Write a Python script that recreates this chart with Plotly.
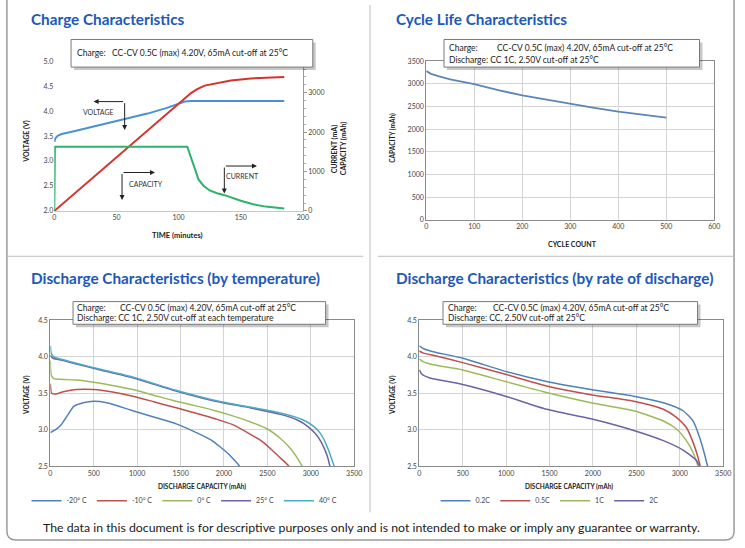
import plotly.graph_objects as go

W, H = 745, 548
def X(px): return px / W
def Y(py): return 1 - py / H

# ---------------- data ----------------
# Charge characteristics
time_v = [0, 1, 3, 6, 15, 30, 45, 60, 75, 90, 100, 105, 110, 150, 185]
voltage = [3.38, 3.46, 3.51, 3.54, 3.59, 3.68, 3.77, 3.86, 3.95, 4.06, 4.15, 4.19, 4.20, 4.20, 4.20]
time_c = [0, 100, 106, 110, 115, 121, 142, 158, 185]
capacity = [0, 2730, 2890, 2990, 3090, 3180, 3310, 3360, 3400]
time_i = [0, 0.5, 107, 110, 113, 116, 120, 125, 131, 137, 150, 160, 170, 185]
current = [0, 1630, 1630, 1350, 1050, 800, 640, 520, 450, 400, 260, 170, 110, 65]

# Cycle life
cycles = [0, 10, 25, 50, 100, 150, 200, 250, 300, 350, 400, 450, 500]
cycle_cap = [3280, 3220, 3170, 3100, 2995, 2860, 2745, 2650, 2565, 2470, 2385, 2315, 2255]

# Discharge by temperature
temp_names = ["-20° C", "-10° C", "0° C", "25° C", "40° C"]
t20_cap = [0, 60, 120, 200, 270, 380, 500, 650, 950, 1200, 1450, 1700, 1850, 1950, 2050, 2130, 2180]
t20_v = [2.96, 3.00, 3.06, 3.20, 3.32, 3.37, 3.39, 3.37, 3.26, 3.17, 3.08, 2.95, 2.86, 2.77, 2.67, 2.57, 2.50]
t10_cap = [0, 15, 60, 150, 300, 500, 700, 950, 1200, 1450, 1700, 1900, 2100, 2300, 2450, 2580, 2680, 2750]
t10_v = [3.63, 3.50, 3.49, 3.52, 3.55, 3.55, 3.52, 3.46, 3.38, 3.30, 3.22, 3.15, 3.07, 2.94, 2.83, 2.69, 2.58, 2.50]
t0_cap = [0, 10, 40, 150, 300, 500, 700, 950, 1200, 1450, 1700, 1900, 2100, 2300, 2500, 2650, 2760, 2840, 2900]
t0_v = [3.95, 3.75, 3.70, 3.69, 3.68, 3.65, 3.61, 3.55, 3.47, 3.39, 3.32, 3.26, 3.19, 3.11, 3.01, 2.88, 2.75, 2.62, 2.50]
t25_cap = [0, 30, 150, 300, 576, 955, 1447, 1900, 2300, 2650, 2850, 2960, 3050, 3110, 3160, 3195, 3220]
t25_v = [4.02, 3.98, 3.95, 3.90, 3.82, 3.71, 3.53, 3.39, 3.30, 3.21, 3.13, 3.05, 2.95, 2.85, 2.73, 2.62, 2.50]
t40_cap = [0, 10, 40, 150, 300, 576, 955, 1447, 1900, 2300, 2650, 2900, 3030, 3110, 3170, 3210, 3240, 3270]
t40_v = [4.15, 4.05, 4.00, 3.96, 3.91, 3.83, 3.72, 3.54, 3.40, 3.31, 3.23, 3.14, 3.05, 2.95, 2.82, 2.70, 2.60, 2.50]

# Discharge by rate
rate_names = ["0.2C", "0.5C", "1C", "2C"]
r02_cap = [0, 50, 159, 500, 992, 1466, 1977, 2470, 2811, 3038, 3152, 3227, 3284, 3320]
r02_v = [4.15, 4.11, 4.07, 3.98, 3.80, 3.66, 3.55, 3.46, 3.37, 3.26, 3.12, 2.90, 2.67, 2.50]
r05_cap = [0, 50, 159, 500, 992, 1466, 1977, 2470, 2811, 2962, 3076, 3152, 3208, 3235]
r05_v = [4.08, 4.05, 4.02, 3.92, 3.76, 3.60, 3.48, 3.39, 3.28, 3.17, 3.03, 2.83, 2.63, 2.50]
r1_cap = [0, 50, 159, 500, 992, 1466, 1977, 2470, 2811, 2962, 3076, 3152, 3210]
r1_v = [3.97, 3.93, 3.89, 3.82, 3.66, 3.51, 3.37, 3.26, 3.12, 3.01, 2.85, 2.69, 2.50]
r2_cap = [0, 30, 121, 500, 992, 1466, 1977, 2470, 2811, 3038, 3190, 3230]
r2_v = [3.82, 3.76, 3.71, 3.62, 3.46, 3.28, 3.15, 2.99, 2.85, 2.72, 2.58, 2.50]

FONT = "Lato"
BLUE, RED, GREEN, PURPLE, CYAN = "#4f81bd", "#c0504d", "#9bbb59", "#6a63a8", "#4bacc6"
TITLE_C = "#2058b8"

fig = go.Figure()

# Chart 1
fig.add_trace(go.Scatter(x=time_v, y=voltage, mode="lines", line=dict(color="#4a90d9", width=2),
                         xaxis="x", yaxis="y", showlegend=False))
fig.add_trace(go.Scatter(x=time_c, y=capacity, mode="lines", line=dict(color="#d4342c", width=2),
                         xaxis="x", yaxis="y2", showlegend=False))
fig.add_trace(go.Scatter(x=time_i, y=current, mode="lines", line=dict(color="#2db36a", width=2),
                         xaxis="x", yaxis="y2", showlegend=False))
# Chart 2
fig.add_trace(go.Scatter(x=cycles, y=cycle_cap, mode="lines", line=dict(color="#5b86b8", width=1.8),
                         xaxis="x2", yaxis="y3", showlegend=False))
# Chart 3
for name, cx, vy, col in zip(temp_names, [t20_cap, t10_cap, t0_cap, t25_cap, t40_cap],
                             [t20_v, t10_v, t0_v, t25_v, t40_v], [BLUE, RED, GREEN, PURPLE, CYAN]):
    fig.add_trace(go.Scatter(x=cx, y=vy, mode="lines", name=name, line=dict(color=col, width=1.5, shape="spline", smoothing=0.6),
                             xaxis="x3", yaxis="y4", legend="legend"))
# Chart 4
for name, cx, vy, col in zip(rate_names, [r02_cap, r05_cap, r1_cap, r2_cap],
                             [r02_v, r05_v, r1_v, r2_v], [BLUE, RED, GREEN, PURPLE]):
    fig.add_trace(go.Scatter(x=cx, y=vy, mode="lines", name=name, line=dict(color=col, width=1.5, shape="spline", smoothing=0.6),
                             xaxis="x4", yaxis="y5", legend="legend2"))

tickf = dict(family=FONT, size=7, color="#444")
grid = "#d4d4d4"
frame = "#8a8a8a"

layout = dict(
    width=W, height=H, margin=dict(l=0, r=0, t=0, b=0),
    paper_bgcolor="white", plot_bgcolor="rgba(0,0,0,0)",
    font=dict(family=FONT),
    xaxis=dict(domain=[X(53), X(305)], range=[0, 200], tickvals=[0, 50, 100, 150, 200],
               showgrid=False, zeroline=False, showline=True, linecolor="#c8c8c8", tickfont=tickf,
               anchor="y", fixedrange=True),
    yaxis=dict(domain=[Y(209), Y(57)], range=[2, 5], dtick=0.5, tickformat=".1f", showgrid=False,
               zeroline=False, showline=False, tickfont=tickf, anchor="x"),
    yaxis2=dict(overlaying="y", side="right", range=[0, 3800], tickvals=[0, 1000, 2000, 3000],
                showgrid=False, zeroline=False, showline=True, linecolor="#9a9a9a", ticks="outside",
                ticklen=3, tickcolor="#9a9a9a", tickfont=tickf, anchor="x",
                minor=dict(ticks="outside", ticklen=2, dtick=200, tickcolor="#b0b0b0")),
    xaxis2=dict(domain=[X(430), X(722)], range=[0, 600], dtick=100, showgrid=True, gridcolor=grid,
                zeroline=False, showline=True, mirror=True, linecolor=frame, tickfont=tickf, anchor="y3"),
    yaxis3=dict(domain=[Y(218), Y(57)], range=[0, 3500], dtick=500, showgrid=True, gridcolor=grid,
                zeroline=False, showline=True, mirror=True, linecolor=frame, tickfont=tickf, anchor="x2"),
    xaxis3=dict(domain=[X(49), X(357)], range=[0, 3500], dtick=500, showgrid=True, gridcolor=grid,
                zeroline=False, showline=True, mirror=True, linecolor=frame, tickfont=tickf, anchor="y4"),
    yaxis4=dict(domain=[Y(468), Y(320)], range=[2.5, 4.5], dtick=0.5, tickformat=".1f", showgrid=True,
                gridcolor=grid, zeroline=False, showline=True, mirror=True, linecolor=frame, tickfont=tickf, anchor="x3"),
    xaxis4=dict(domain=[X(423), X(731)], range=[0, 3500], dtick=500, showgrid=True, gridcolor=grid,
                zeroline=False, showline=True, mirror=True, linecolor=frame, tickfont=tickf, anchor="y5"),
    yaxis5=dict(domain=[Y(468), Y(320)], range=[2.5, 4.5], dtick=0.5, tickformat=".1f", showgrid=True,
                gridcolor=grid, zeroline=False, showline=True, mirror=True, linecolor=frame, tickfont=tickf, anchor="x4"),
    legend=dict(orientation="h", x=X(185), y=Y(503), xanchor="center", yanchor="middle",
                font=dict(family=FONT, size=7, color="#444"), itemwidth=30,
                bgcolor="rgba(0,0,0,0)"),
    legend2=dict(orientation="h", x=X(555), y=Y(503), xanchor="center", yanchor="middle",
                 font=dict(family=FONT, size=7, color="#444"), itemwidth=30,
                 bgcolor="rgba(0,0,0,0)"),
)
fig.update_layout(**layout)

shapes = []
annos = []

def paper_line(x0, y0, x1, y1, color="#bdbdbd", width=1):
    shapes.append(dict(type="line", xref="paper", yref="paper", x0=X(x0), y0=Y(y0), x1=X(x1), y1=Y(y1),
                       line=dict(color=color, width=width)))

def text(px, py, s, size=8, color="#222", bold=False, xanchor="left", angle=0):
    if bold:
        s = "<b>" + s + "</b>"
    annos.append(dict(xref="paper", yref="paper", x=X(px), y=Y(py), text=s, showarrow=False,
                      xanchor=xanchor, yanchor="middle", textangle=angle, borderpad=0,
                      font=dict(family=FONT, size=size, color=color)))

def box(x0, y0, x1, y1):
    shapes.append(dict(type="rect", xref="paper", yref="paper", x0=X(x0 + 3), y0=Y(y1 + 3), x1=X(x1 + 3), y1=Y(y0 + 3),
                       fillcolor="rgba(0,0,0,0.22)", line=dict(width=0), layer="above"))
    shapes.append(dict(type="rect", xref="paper", yref="paper", x0=X(x0), y0=Y(y1), x1=X(x1), y1=Y(y0),
                       fillcolor="white", line=dict(color="#7a7a7a", width=1), layer="above"))

# outer frame with rounded bottom corners
r = 9
l, rt, b, t = 5, 742, 543, -5
path = (f"M {X(l)},{Y(t)} L {X(l)},{Y(b - r)} Q {X(l)},{Y(b)} {X(l + r)},{Y(b)} "
        f"L {X(rt - r)},{Y(b)} Q {X(rt)},{Y(b)} {X(rt)},{Y(b - r)} L {X(rt)},{Y(t)}")
shapes.append(dict(type="path", xref="paper", yref="paper", path=path, line=dict(color="#9a9a9a", width=1.5)))
# dividers
paper_line(373, 0, 373, 515)
paper_line(5, 255, 366, 255)
paper_line(381, 255, 742, 255)

# titles
text(28, 14, "Charge Characteristics", size=15.3, color=TITLE_C, bold=True)
text(398, 14, "Cycle Life Characteristics", size=15.3, color=TITLE_C, bold=True)
text(28, 277, "Discharge Characteristics (by temperature)", size=15.3, color=TITLE_C, bold=True)
text(398, 277, "Discharge Characteristics (by rate of discharge)", size=15.3, color=TITLE_C, bold=True)

FS = 8.5
# condition boxes
box(70, 35, 315, 63)
text(75, 49, "Charge:", size=FS)
text(110, 49, "CC-CV 0.5C (max) 4.20V, 65mA cut-off at 25°C", size=FS)

box(448, 35, 707, 63)
text(452, 44, "Charge:", size=FS)
text(501, 44, "CC-CV 0.5C (max) 4.20V, 65mA cut-off at 25°C", size=FS)
text(452, 56, "Discharge: CC 1C, 2.50V cut-off at 25°C", size=FS)

box(72, 301, 328, 324)
text(75, 307, "Charge:", size=FS)
text(119, 307, "CC-CV 0.5C (max) 4.20V, 65mA cut-off at 25°C", size=FS)
text(75, 318, "Discharge: CC 1C, 2.50V cut-off at each temperature", size=FS)

box(447, 301, 705, 324)
text(451, 307, "Charge:", size=FS)
text(497, 307, "CC-CV 0.5C (max) 4.20V, 65mA cut-off at 25°C", size=FS)
text(451, 318, "Discharge: CC, 2.50V cut-off at 25°C", size=FS)

# axis titles
text(25, 138, "VOLTAGE (V)", size=7, bold=True, xanchor="center", angle=-90)
text(178, 234, "TIME (minutes)", size=7.5, bold=True, xanchor="center")
text(337, 146, "CURRENT (mA)", size=7, bold=True, xanchor="center", angle=-90)
text(347, 146, "CAPACITY (mAh)", size=7, bold=True, xanchor="center", angle=-90)
text(395, 135, "CAPACITY (mAh)", size=6.5, bold=True, xanchor="center", angle=-90)
text(578, 243, "CYCLE COUNT", size=7, bold=True, xanchor="center")
text(25, 396, "VOLTAGE (V)", size=6.5, bold=True, xanchor="center", angle=-90)
text(203, 489, "DISCHARGE CAPACITY (mAh)", size=6.5, bold=True, xanchor="center")
text(396, 396, "VOLTAGE (V)", size=6.5, bold=True, xanchor="center", angle=-90)
text(575, 489, "DISCHARGE CAPACITY (mAh)", size=6.5, bold=True, xanchor="center")

# footer
text(375, 530, "The data in this document is for descriptive purposes only and is not intended to make or imply any guarantee or warranty.",
     size=12.3, color="#1a1a1a", xanchor="center")

# chart 1 callout brackets (data coordinates)
def arrow(x0, y0, x1, y1):
    annos.append(dict(xref="x", yref="y", axref="x", ayref="y", x=x1, y=y1, ax=x0, ay=y0, text="",
                      showarrow=True, arrowhead=2, arrowsize=1, arrowwidth=1, arrowcolor="#222", standoff=0))

arrow(56.6, 4.19, 31.6, 4.19)
arrow(56.6, 4.19, 56.6, 3.62)
arrow(54.5, 2.77, 54.5, 2.22)
arrow(54.5, 2.77, 81, 2.77)
arrow(136.8, 2.90, 136.8, 2.35)
arrow(136.8, 2.90, 163, 2.90)
for tx, ty, s in [(35.5, 3.98, "VOLTAGE"), (73.7, 2.54, "CAPACITY"), (151.3, 2.69, "CURRENT")]:
    annos.append(dict(xref="x", yref="y", x=tx, y=ty, text=s, showarrow=False,
                      font=dict(family=FONT, size=7, color="#333")))

fig.update_layout(shapes=shapes, annotations=annos)
fig.write_html("out.html")
